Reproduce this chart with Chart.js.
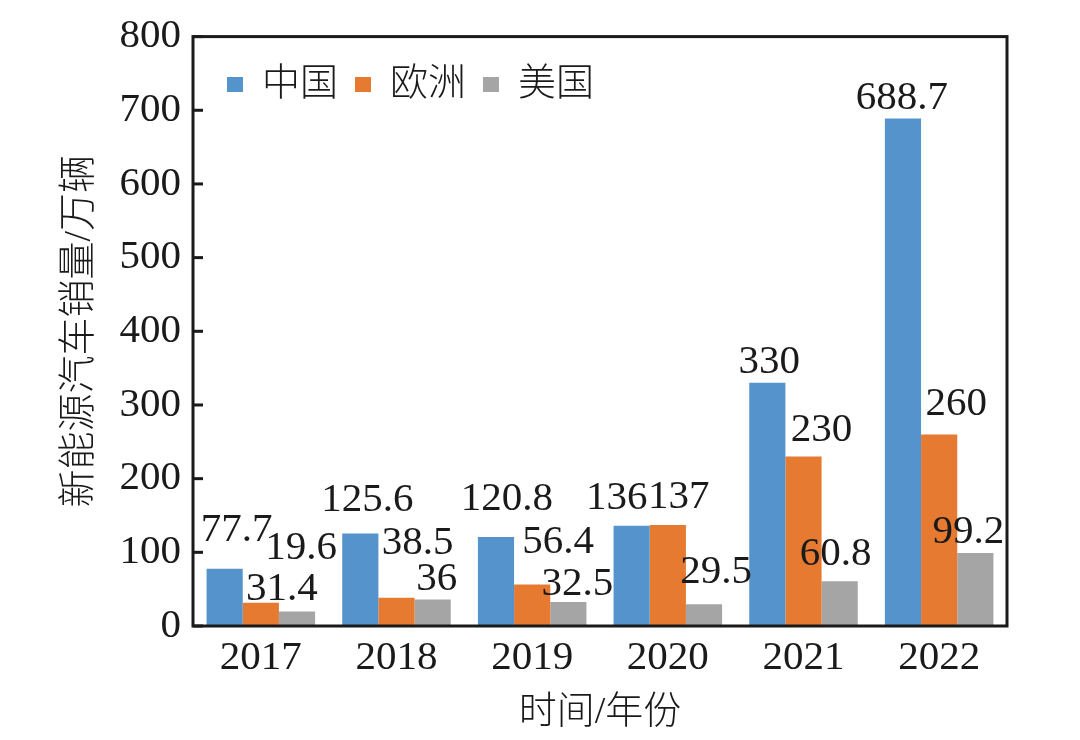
<!DOCTYPE html>
<html>
<head>
<meta charset="utf-8">
<script src="https://cdn.jsdelivr.net/npm/chart.js@4/dist/chart.umd.min.js"></script>
<style>
  html, body { margin: 0; padding: 0; background: #ffffff; }
  #wrap { width: 1080px; height: 740px; }
</style>
</head>
<body>
<div id="wrap"><canvas id="c" width="1080" height="740"></canvas></div>
<script>
// ---- data ----
const categories = ['2017', '2018', '2019', '2020', '2021', '2022'];
const seriesNames = ['中国', '欧洲', '美国'];
const chinaSales = [77.7, 125.6, 120.8, 136, 330, 688.7];
const europeSales = [31.4, 38.5, 56.4, 137, 230, 260];
const usSales = [19.6, 36, 32.5, 29.5, 60.8, 99.2];
const yTickValues = [0, 100, 200, 300, 400, 500, 600, 700, 800];
const yAxisTitle = '新能源汽车销量/万辆';
const xAxisTitle = '时间/年份';

// ---- styling ----
const seriesColors = ['#5593CD', '#E67A30', '#A5A5A5'];
const textColor = '#1a1a1a';
const numFont = '"Liberation Serif", "Times New Roman", serif';
const cjkFont = '"Liberation Serif", "Noto Sans CJK SC", serif';
// per-label nudges [dx, dy] in px relative to the bar's top-centre (as placed in the original)
const labelOffsets = [
  [[12, -28], [7, -22], [11, -27], [-15, -17], [2, -10], [-1, -10]],
  [[21, -3], [21, -44], [26, -31], [11, -17], [18, -16], [17, -19]],
  [[4, -53], [4, -9], [9, -7], [12, -21], [-4, -16], [-7, -10]]
];

const valueLabelPlugin = {
  id: 'valueLabels',
  afterDatasetsDraw(chart) {
    const ctx = chart.ctx;
    ctx.save();
    ctx.font = '41px ' + numFont;
    ctx.fillStyle = textColor;
    ctx.textAlign = 'center';
    ctx.textBaseline = 'alphabetic';
    chart.data.datasets.forEach((ds, di) => {
      const meta = chart.getDatasetMeta(di);
      meta.data.forEach((el, i) => {
        const off = labelOffsets[di][i];
        ctx.fillText(String(ds.data[i]), el.x + off[0], el.y + off[1]);
      });
    });
    ctx.restore();
  }
};

const framePlugin = {
  id: 'frame',
  afterDraw(chart) {
    const ctx = chart.ctx;
    const a = chart.chartArea;
    ctx.save();
    ctx.strokeStyle = textColor;
    ctx.lineWidth = 3;
    ctx.strokeRect(a.left, a.top, a.right - a.left, a.bottom - a.top);
    // inward tick marks on y axis
    const ys = chart.scales.y;
    ys.ticks.forEach(t => {
      const py = ys.getPixelForValue(t.value);
      ctx.beginPath();
      ctx.moveTo(a.left, py);
      ctx.lineTo(a.left + 10, py);
      ctx.stroke();
    });
    // legend inside plot
    ctx.font = '300 38px ' + cjkFont;
    ctx.textBaseline = 'middle';
    ctx.textAlign = 'left';
    const ly = 85;
    let lx = a.left + 34;
    chart.data.datasets.forEach((ds) => {
      ctx.fillStyle = ds.backgroundColor;
      ctx.fillRect(lx, ly - 8, 16, 15);
      ctx.fillStyle = textColor;
      ctx.fillText(ds.label, lx + 35, ly);
      lx += 128;
    });
    ctx.restore();
  }
};

new Chart(document.getElementById('c'), {
  type: 'bar',
  data: {
    labels: categories,
    datasets: [
      { label: seriesNames[0], data: chinaSales, backgroundColor: seriesColors[0] },
      { label: seriesNames[1], data: europeSales, backgroundColor: seriesColors[1] },
      { label: seriesNames[2], data: usSales, backgroundColor: seriesColors[2] }
    ]
  },
  options: {
    responsive: false,
    animation: false,
    devicePixelRatio: 1,
    layout: { padding: { top: 35, right: 73, bottom: 0, left: 0 } },
    datasets: { bar: { categoryPercentage: 0.8, barPercentage: 1.0, borderWidth: 0 } },
    plugins: { legend: { display: false }, tooltip: { enabled: false } },
    scales: {
      x: {
        grid: { display: false, drawTicks: false },
        border: { display: false },
        ticks: { color: textColor, font: { family: numFont, size: 41 }, padding: 8, maxRotation: 0 },
        title: { display: true, text: xAxisTitle, color: textColor, font: { family: cjkFont, size: 38, weight: 300 }, padding: { top: 4, bottom: 4 } },
        afterFit(s) { s.height = 114; }
      },
      y: {
        min: 0, max: 800,
        grid: { display: false, drawTicks: false },
        border: { display: false },
        afterBuildTicks(s) { s.ticks = yTickValues.map(v => ({ value: v })); },
        ticks: { color: textColor, font: { family: numFont, size: 41 }, padding: 12 },
        title: { display: true, text: yAxisTitle, color: textColor, font: { family: cjkFont, size: 38, weight: 300 }, padding: { top: 57, bottom: 4 } },
        afterFit(s) { s.width = 193; }
      }
    }
  },
  plugins: [valueLabelPlugin, framePlugin]
});
</script>
</body>
</html>
